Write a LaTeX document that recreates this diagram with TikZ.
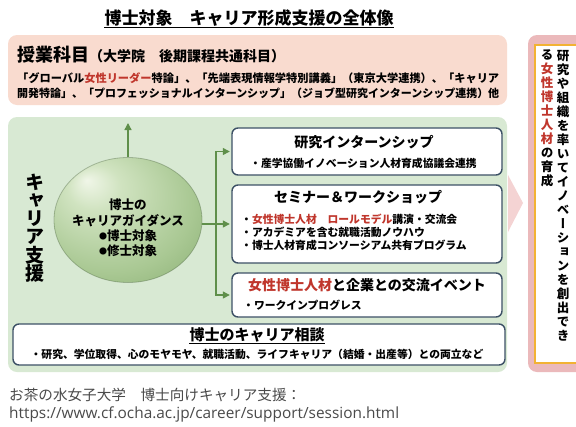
\documentclass[tikz,border=0pt]{standalone}
\usepackage{fontspec}
\usepackage{graphicx}
\setmainfont{Noto Sans CJK JP}
\newfontfamily\vjp{Noto Sans CJK JP}[RawFeature=+vert]
\newfontfamily\urlfont{Open Sans}
\usetikzlibrary{shapes.geometric,arrows.meta}
\definecolor{pinkbg}{HTML}{F9DBCF}
\definecolor{greenbg}{HTML}{D8E9D3}
\definecolor{boxline}{HTML}{3D5166}
\definecolor{jred}{HTML}{C0362C}
\definecolor{outerpink}{HTML}{EBB9BB}
\definecolor{gold}{HTML}{F2B233}
\definecolor{chev}{HTML}{F4D3D3}
\definecolor{garr}{HTML}{5F8F4A}
\definecolor{foot}{HTML}{4A4A4A}
\definecolor{sphA}{HTML}{F0F6E8}
\definecolor{sphB}{HTML}{D0E3C0}
\definecolor{sphC}{HTML}{A9C893}
\definecolor{sphD}{HTML}{86AC70}
\definecolor{sphE}{HTML}{5C7F4C}
\pgfdeclareradialshading{spheresh}{\pgfpoint{-14bp}{16bp}}{color(0bp)=(sphA); color(9bp)=(sphB); color(28bp)=(sphC); color(42bp)=(sphD); color(50bp)=(sphE)}
\newcommand{\smdot}{\raisebox{0.8pt}{\fontsize{8}{8}\selectfont ●}}
\tikzset{
  boxst/.style={draw=boxline, line width=1.4pt, rounded corners=6pt, fill=white, inner sep=0pt},
  btitle/.style={font=\fontsize{14}{14}\selectfont\bfseries, inner sep=0pt},
  bitem/.style={font=\fontsize{10.8}{13}\selectfont\bfseries, inner sep=0pt, anchor=west, align=left},
  garrow/.style={draw=garr, line width=1.3pt, -{Triangle[length=7pt,width=7pt]}},
  gline/.style={draw=garr, line width=1.3pt},
}
\begin{document}
\begin{tikzpicture}[x=1pt,y=-1pt]
\useasboundingbox (0,0) rectangle (576,426);
\fill[white] (0,0) rectangle (576,426);
% title
\node[inner sep=0pt, font=\fontsize{17}{17}\selectfont\bfseries] (title) at (249,18) {博士対象　キャリア形成支援の全体像};
\draw[line width=1.2pt] ([yshift=-3pt]title.base west) -- ([yshift=-3pt]title.base east);
% pink course box
\fill[pinkbg, rounded corners=9pt] (8,35) rectangle (507,105);
\node[inner sep=0pt, anchor=base west] (kamoku) at (17,61) {\fontsize{18}{18}\selectfont\bfseries 授業科目\fontsize{14}{14}\selectfont （大学院　後期課程共通科目）};
\node[inner sep=0pt, anchor=west, font=\fontsize{11}{11}\selectfont\bfseries] (line1) at (17,78) {\resizebox{482pt}{!}{「グローバル\textcolor{jred}{女性リーダー}特論」、「先端表現情報学特別講義」（東京大学連携）、「キャリア}};
\node[inner sep=0pt, anchor=west, font=\fontsize{11}{11}\selectfont\bfseries] (line2) at (17,93) {\resizebox{482pt}{!}{開発特論」、「プロフェッショナルインターンシップ」（ジョブ型研究インターンシップ連携）他}};
% green box
\fill[greenbg, rounded corners=9pt] (8,117) rectangle (507,372);
\node[inner sep=0pt, align=center, font=\vjp\fontsize{19}{18.3}\selectfont\bfseries] (shien) at (35,228) {キ\\ャ\\リ\\ア\\支\\援};
% sphere
\node[ellipse, minimum width=148pt, minimum height=125pt, inner sep=0pt, shading=spheresh, draw=sphE!70!black, draw opacity=0.35, line width=0.8pt] (sphere) at (128,220) {};
\node[inner sep=0pt, align=center, font=\fontsize{12.5}{15.2}\selectfont\bfseries] (guid) at (128,228) {博士の\\キャリアガイダンス\\\smdot 博士対象\\\smdot 修士対象};
% boxes
\node[boxst, minimum width=270pt, minimum height=47pt] (b1) at (367,151.5) {};
\node[boxst, minimum width=270pt, minimum height=78pt] (b2) at (367,224) {};
\node[boxst, minimum width=270pt, minimum height=44pt] (b3) at (367,295) {};
\node[btitle] (t1) at (364,142) {研究インターンシップ};
\node[bitem] (s1) at (250,163) {・産学協働イノベーション人材育成協議会連携};
\node[btitle] (t2) at (358,197) {セミナー＆ワークショップ};
\node[bitem] (s2) at (241,232) {・\textcolor{jred}{女性博士人材　ロールモデル}講演・交流会\\・アカデミアを含む就職活動ノウハウ\\・博士人材育成コンソーシアム共有プログラム};
\node[btitle] (t3) at (367,285) {\textcolor{jred}{女性博士人材}と企業との交流イベント};
\node[bitem] (s3) at (243,305) {・ワークインプログレス};
% connectors
\coordinate (uptip) at (128,123);
\draw[garrow] (sphere.north) -- (uptip);
\coordinate (jn) at (216,224);
\draw[gline] (sphere.east |- b2.west) -- (jn);
\draw[garrow, shorten >=1.5pt] (jn) |- (b1.west);
\draw[garrow, shorten >=1.5pt] (jn) -- (b2.west);
\draw[garrow, shorten >=1.5pt] (jn) |- (b3.west);
% consultation box
\node[boxst, minimum width=492pt, minimum height=41pt] (b4) at (259,344.5) {};
\node[inner sep=0pt, font=\fontsize{15}{15}\selectfont\bfseries] (t4) at (257,335) {博士のキャリア相談};
\draw[line width=1pt] ([yshift=-2.5pt]t4.base west) -- ([yshift=-2.5pt]t4.base east);
\node[inner sep=0pt, font=\fontsize{10.8}{11}\selectfont\bfseries] (s4) at (257,354) {・研究、学位取得、心のモヤモヤ、就職活動、ライフキャリア（結婚・出産等）との両立など};
% chevron
\fill[chev] (508,175) -- (523,203) -- (508,232) -- cycle;
% right column
\fill[outerpink, rounded corners=9pt] (528,35) rectangle (600,372);
\draw[gold, line width=1.5pt, fill=white] (535,45) rectangle (600,363);
\node[inner sep=0pt, anchor=north, align=center, font=\vjp\fontsize{12.5}{14}\selectfont\bfseries] (goal1) at (563,50) {研\\究\\や\\組\\織\\を\\率\\い\\て\\イ\\ノ\\ベ\\ー\\シ\\ョ\\ン\\を\\創\\出\\で\\き};
\node[inner sep=0pt, anchor=north, align=center, font=\vjp\fontsize{12.5}{14}\selectfont\bfseries] (goal2) at (547,50) {る\\\textcolor{jred}{女}\\\textcolor{jred}{性}\\\textcolor{jred}{博}\\\textcolor{jred}{士}\\\textcolor{jred}{人}\\\textcolor{jred}{材}\\の\\育\\成};
% footer
\node[inner sep=0pt, anchor=west, text=foot, font=\fontsize{14.6}{14.6}\selectfont] (f1) at (9,395) {お茶の水女子大学　博士向けキャリア支援：};
\node[inner sep=0pt, anchor=west, text=foot, font=\urlfont\fontsize{15}{15}\selectfont] (f2) at (9,414) {\resizebox{390pt}{!}{https://www.cf.ocha.ac.jp/career/support/session.html}};
\end{tikzpicture}
\end{document}
